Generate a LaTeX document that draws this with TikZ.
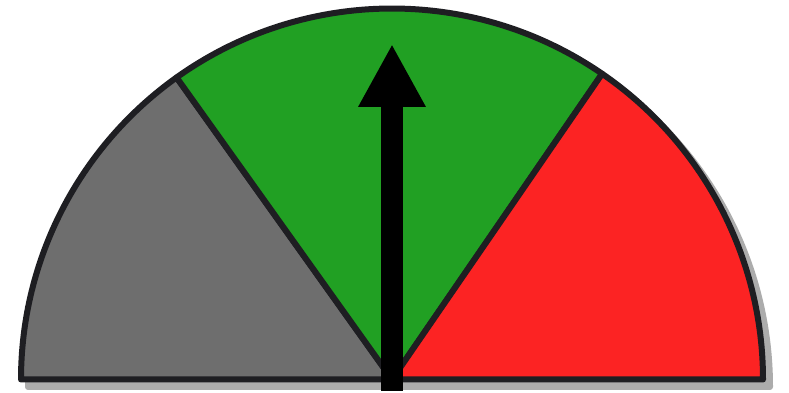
\documentclass[tikz,border=0pt]{standalone}
\usetikzlibrary{arrows.meta}
\definecolor{gaugegray}{RGB}{110,110,110}
\definecolor{gaugegreen}{RGB}{33,160,35}
\definecolor{gaugered}{RGB}{252,35,35}
\definecolor{rimdark}{RGB}{30,30,34}
\definecolor{shadowgray}{RGB}{172,172,172}
\tikzset{
  sector/.style={draw=rimdark, line width=6pt, line join=round},
  shadow/.style={fill=shadowgray, draw=shadowgray, line width=6pt, line join=round},
  needle/.style={-{Triangle[width=63pt,length=63pt]}, line width=22pt, color=black}
}
\begin{document}
\begin{tikzpicture}[x=1pt,y=1pt]
  \useasboundingbox (0,0) rectangle (789,393);
  \coordinate (c) at (392,13.5);
  \coordinate (cs) at (399,6);

  % Shadow
  \filldraw[shadow] (cs) ++(-371,0) arc[start angle=180, end angle=0, radius=371] -- cycle;

  % Sectors
  \filldraw[sector, fill=gaugegray] (c) -- ++(180:371) arc[start angle=180, end angle=125.5, radius=371] -- cycle;
  \filldraw[sector, fill=gaugegreen] (c) -- ++(125.5:371) arc[start angle=125.5, end angle=55.5, radius=371] -- cycle;
  \filldraw[sector, fill=gaugered] (c) -- ++(55.5:371) arc[start angle=55.5, end angle=0, radius=371] -- cycle;

  % Needle
  \coordinate (tail) at (392,2);
  \coordinate (tip) at (392,349);
  \draw[needle] (tail) -- (tip);
\end{tikzpicture}
\end{document}
